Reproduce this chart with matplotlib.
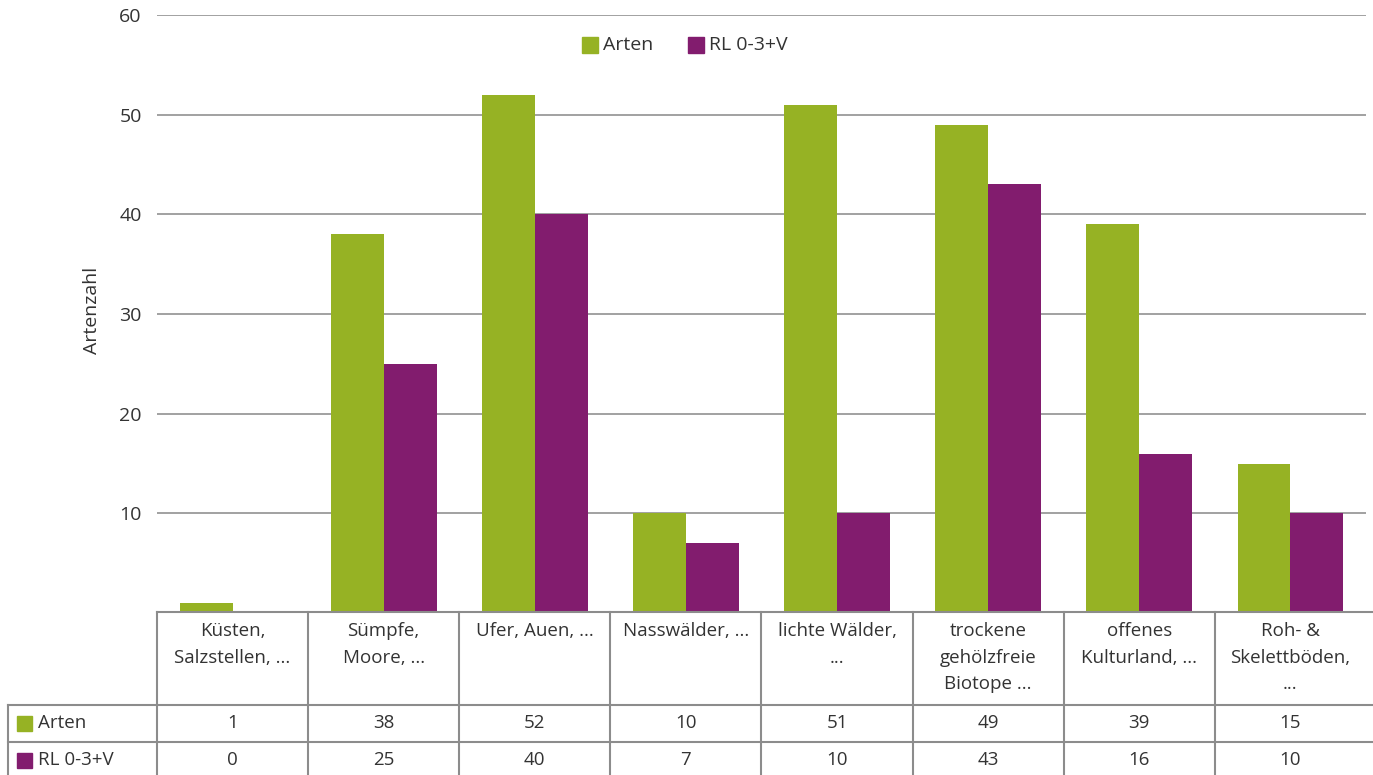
import matplotlib.pyplot as plt
import matplotlib.transforms as mtransforms
import numpy as np

plt.rcParams['font.family'] = ['Open Sans', 'DejaVu Sans']

categories = ["Küsten,\nSalzstellen, ...", "Sümpfe,\nMoore, ...", "Ufer, Auen, ...",
              "Nasswälder, ...", "lichte Wälder,\n...", "trockene\ngehölzfreie\nBiotope ...",
              "offenes\nKulturland, ...", "Roh- &\nSkelettböden,\n..."]
arten = [1, 38, 52, 10, 51, 49, 39, 15]
rote_liste = [0, 25, 40, 7, 10, 43, 16, 10]
series_names = ["Arten", "RL 0-3+V"]
yticks = [10, 20, 30, 40, 50, 60]

green = "#96b224"
purple = "#821c6e"
grid_col = "#9a9a9a"
line_col = "#8c8c8c"
text_col = "#333333"

W, H = 1373, 775
fig = plt.figure(figsize=(W / 100, H / 100), dpi=100)

# plot area in pixel coordinates
left, right, top, bottom = 157, 1366, 15, 613
ax = fig.add_axes([left / W, 1 - bottom / H, (right - left) / W, (bottom - top) / H])

x = np.arange(len(categories))
w = 0.35
ax.bar(x - w / 2, arten, w, color=green, zorder=3)
ax.bar(x + w / 2, rote_liste, w, color=purple, zorder=3)

ax.set_xlim(-0.5, len(categories) - 0.5)
ax.set_ylim(0, 60)
ax.set_yticks(yticks)
ax.set_yticklabels([str(t) for t in yticks], fontsize=14, color=text_col)
ax.tick_params(axis='y', length=0, pad=11)
ax.set_xticks([])
for s in ax.spines.values():
    s.set_visible(False)
for t in yticks:
    ax.axhline(t, color=grid_col, lw=1.3, zorder=1)

fig.text(92 / W, 1 - 310 / H, "Artenzahl", rotation=90, ha='center', va='center',
         fontsize=14, color=text_col)

# legend at the top
for sx, col, name in [(582, green, series_names[0]), (688, purple, series_names[1])]:
    fig.patches.append(plt.Rectangle((sx / W, 1 - 53 / H), 16 / W, 16 / H,
                                     transform=fig.transFigure, color=col))
    fig.text((sx + 21) / W, 1 - 45 / H, name, ha='left', va='center',
             fontsize=14, color=text_col)

# data table below the axis
trans = mtransforms.blended_transform_factory(ax.transData, fig.transFigure)
fy = lambda py: 1 - py / H
fx = lambda px: px / W
xl, xr = -0.5, len(categories) - 0.5
row1, row2 = 705, 742

def hline(py, x0_fig):
    fig.add_artist(plt.Line2D([x0_fig, fx(1373)], [fy(py), fy(py)],
                              transform=fig.transFigure, color=line_col, lw=1.5))

fig.add_artist(plt.Line2D([fx(left), fx(1373)], [fy(612), fy(612)],
                          transform=fig.transFigure, color=line_col, lw=1.5))
hline(row1, fx(8))
hline(row2, fx(8))
fig.add_artist(plt.Line2D([fx(8), fx(8)], [fy(row1), fy(H)],
                          transform=fig.transFigure, color=line_col, lw=1.5))
for b in np.arange(xl, xr, 1.0):
    fig.add_artist(plt.Line2D([b, b], [fy(612), fy(H)], transform=trans,
                              color=line_col, lw=1.5))

for i, cat in enumerate(categories):
    fig.text(i, fy(622), cat, transform=trans, ha='center', va='top',
             fontsize=13.5, color=text_col, linespacing=1.62)
    fig.text(i, fy(723), str(arten[i]), transform=trans, ha='center', va='center',
             fontsize=13.5, color=text_col)
    fig.text(i, fy(760), str(rote_liste[i]), transform=trans, ha='center', va='center',
             fontsize=13.5, color=text_col)

for py, col, name in [(723, green, series_names[0]), (760, purple, series_names[1])]:
    fig.patches.append(plt.Rectangle((fx(17), fy(py + 8)), 15 / W, 15 / H,
                                     transform=fig.transFigure, color=col))
    fig.text(fx(38), fy(py), name, ha='left', va='center', fontsize=13.5, color=text_col)

fig.savefig("out.png", dpi=100)
